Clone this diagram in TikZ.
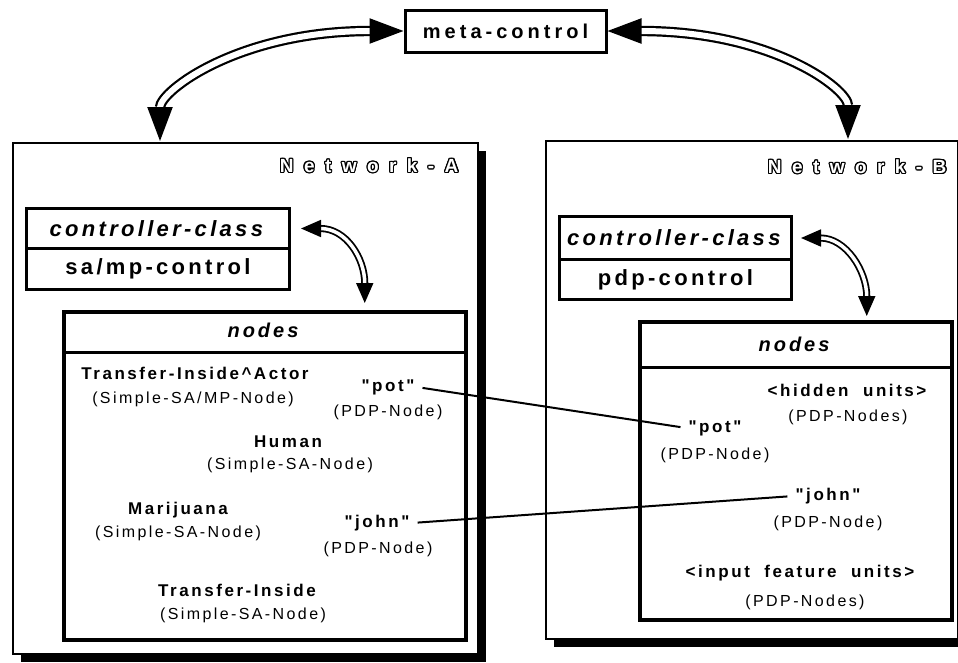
\documentclass[tikz,border=0pt]{standalone}
\usepackage{fontspec}
\setmainfont{Liberation Sans}
\newfontfamily\lblfont[LetterSpace=15]{Liberation Sans}
\newfontfamily\metafont[LetterSpace=20]{Liberation Sans}
\newfontfamily\netfont[LetterSpace=55]{Liberation Sans}
\usepackage{contour}
\contourlength{1.1pt}
\contournumber{16}
\usetikzlibrary{arrows.meta,shadows}
\tikzset{
    net-box/.style = {draw, fill=white, line width=1.6pt, anchor=north west, inner sep=0pt,
        general shadow={fill=black, shadow xshift=8pt, shadow yshift=-8pt}},
    net-title/.style = {anchor=east, font=\netfont\bfseries\fontsize{19}{22}\selectfont},
    meta-box/.style = {draw, fill=white, line width=3pt, minimum width=201pt, minimum height=42pt,
        font=\metafont\bfseries\fontsize{20}{24}\selectfont},
    class-part/.style = {draw, fill=white, line width=3pt, anchor=north west, inner sep=0pt,
        font=\lblfont\bfseries\fontsize{22}{24}\selectfont},
    nodes-box/.style = {draw, fill=white, line width=3.5pt, anchor=north west, inner sep=0pt},
    nodes-head/.style = {font=\lblfont\bfseries\itshape\fontsize{20}{24}\selectfont},
    name-lbl/.style = {font=\lblfont\bfseries\fontsize{17}{20}\selectfont, inner sep=2pt},
    type-lbl/.style = {font=\lblfont\fontsize{16}{19}\selectfont, inner sep=2pt},
    big-arrow/.style = {draw, double, double distance=6pt, line width=2.2pt,
        {Triangle[length=34pt,width=25pt]}-{Triangle[length=34pt,width=25pt]}},
    small-arrow/.style = {draw, double, double distance=3.5pt, line width=1.8pt,
        {Triangle[length=20pt,width=17pt]}-{Triangle[length=20pt,width=17pt]}},
    link/.style = {line width=2pt, shorten <=6pt, shorten >=6pt},
}
\begin{document}
\begin{tikzpicture}[x=1pt, y=-1pt]
\useasboundingbox (0,0) rectangle (958,662);

\node[meta-box] (meta) at (505.5,31) {meta-control};

% Network-A
\node[net-box, minimum width=465pt, minimum height=511pt] (net-a) at (12,142) {};
\node[net-title] (net-a-title) at (462,166) {\contour{black}{\textcolor{white}{Network-A}}};
\node[class-part, minimum width=263pt, minimum height=40pt] (a-class) at (25,207) {\textit{controller-class}};
\node[class-part, minimum width=263pt, minimum height=41pt] (a-ctrl) at (25,247) {sa/mp-control};
\node[nodes-box, minimum width=402pt, minimum height=328pt] (a-nodes) at (62,310) {};
\draw[line width=3pt] ([yshift=-42pt]a-nodes.north west) -- ([yshift=-42pt]a-nodes.north east);
\node[nodes-head] (a-nodes-head) at (263,330) {nodes};

\node[name-lbl] (a-tia) at (195,373) {Transfer-Inside\textasciicircum Actor};
\node[type-lbl] (a-tia-type) at (193,399) {(Simple-SA/MP-Node)};
\node[name-lbl] (a-pot) at (388,387) {"pot"};
\node[type-lbl] (a-pot-type) at (388,412) {(PDP-Node)};
\node[name-lbl] (a-human) at (288,442) {Human};
\node[type-lbl] (a-human-type) at (290,465) {(Simple-SA-Node)};
\node[name-lbl] (a-mari) at (178,510) {Marijuana};
\node[type-lbl] (a-mari-type) at (178,533) {(Simple-SA-Node)};
\node[name-lbl] (a-john) at (377,523) {"john"};
\node[type-lbl] (a-john-type) at (378,549) {(PDP-Node)};
\node[name-lbl] (a-ti) at (237,590) {Transfer-Inside};
\node[type-lbl] (a-ti-type) at (243,615) {(Simple-SA-Node)};

% Network-B
\node[net-box, minimum width=412pt, minimum height=498pt] (net-b) at (545,140) {};
\node[net-title] (net-b-title) at (950,167) {\contour{black}{\textcolor{white}{Network-B}}};
\node[class-part, minimum width=232pt, minimum height=43pt] (b-class) at (558,215) {\textit{controller-class}};
\node[class-part, minimum width=232pt, minimum height=40pt] (b-ctrl) at (558,258) {pdp-control};
\node[nodes-box, minimum width=312pt, minimum height=298pt] (b-nodes) at (638,320) {};
\draw[line width=3pt] ([yshift=-47pt]b-nodes.north west) -- ([yshift=-47pt]b-nodes.north east);
\node[nodes-head] (b-nodes-head) at (794,344) {nodes};

\node[name-lbl] (b-hidden) at (847,390) {<hidden~~units>};
\node[type-lbl] (b-hidden-type) at (848,417) {(PDP-Nodes)};
\node[name-lbl] (b-pot) at (715,428) {"pot"};
\node[type-lbl] (b-pot-type) at (715,455) {(PDP-Node)};
\node[name-lbl] (b-john) at (828,496) {"john"};
\node[type-lbl] (b-john-type) at (828,523) {(PDP-Node)};
\node[name-lbl] (b-input) at (800,573) {<input~~feature~~units>};
\node[type-lbl] (b-input-type) at (805,602) {(PDP-Nodes)};

% arrows
\coordinate (a-top) at (160,141);
\coordinate (b-top) at (848,139);
\draw[big-arrow] (meta.west) .. controls +(-165,0) and +(0,-50) .. (a-top);
\draw[big-arrow] (meta.east) .. controls +(165,0) and +(0,-50) .. (b-top);
\draw[small-arrow] ([xshift=10pt]a-class.east) .. controls +(45,0) and +(0,-45) .. ([xshift=100pt,yshift=7pt]a-nodes.north);
\draw[small-arrow] ([xshift=8pt]b-class.east) .. controls +(45,0) and +(0,-45) .. ([xshift=71pt,yshift=4pt]b-nodes.north);

\draw[link] (a-pot.east) -- (b-pot.west);
\draw[link] (a-john.east) -- (b-john.west);
\end{tikzpicture}
\end{document}
